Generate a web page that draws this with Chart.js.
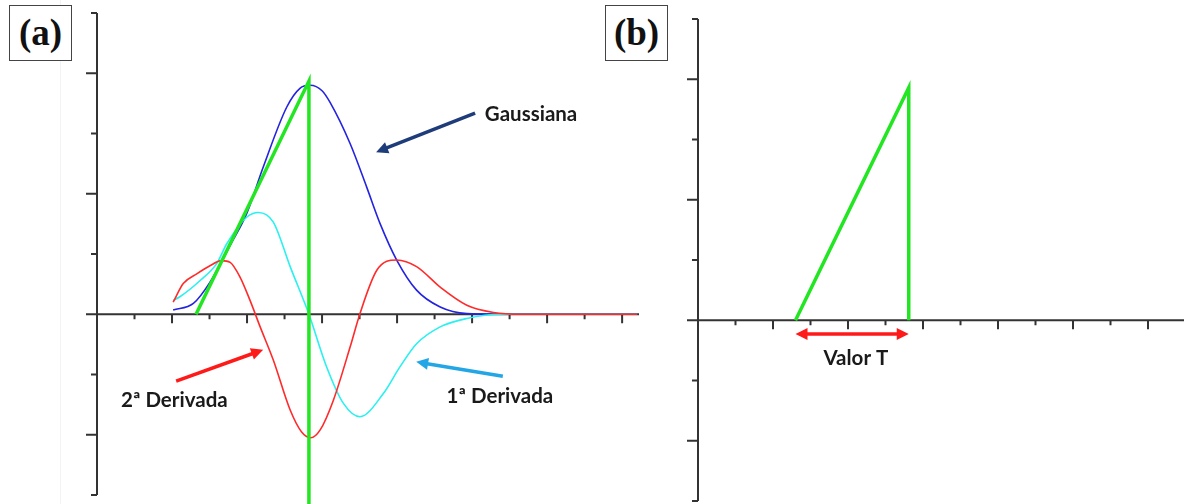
<!doctype html>
<html lang="pt">
<head>
<meta charset="utf-8">
<title>Gaussiana e derivadas</title>
<style>
  * { margin: 0; padding: 0; }
  body { width: 1184px; height: 504px; background: #fff; position: relative; overflow: hidden; }
  canvas { position: absolute; top: 0; }
  #chartA { left: 0; }
  #chartB { left: 660px; }
  .panelTag {
    position: absolute; top: 5px; width: 61px; height: 54px;
    border: 1.5px solid #444; background: #fff; color: #111;
    font-family: "Liberation Serif", serif; font-weight: bold; font-size: 37px;
    line-height: 54px; text-align: center;
  }
  .rule { position: absolute; top: 0; width: 1px; height: 504px; background: #f3f3f3; }
</style>
</head>
<body>
<div class="rule" style="left:60px"></div>
<canvas id="chartA" width="660" height="504"></canvas>
<canvas id="chartB" width="524" height="504"></canvas>
<div class="panelTag" style="left:9px">(a)</div>
<div class="panelTag" style="left:605px">(b)</div>

<script src="https://cdn.jsdelivr.net/npm/chart.js/dist/chart.umd.min.js"></script>
<script>
// ---- panel (a): gaussian and its derivatives ----
const gaussX = [2.03, 2.57, 3.01, 3.6, 3.99, 4.43, 5.06, 5.41, 5.68, 6.0, 6.21, 6.75, 7.19, 7.55, 7.99, 8.52, 9.15, 9.86, 10.6, 14.4];
const gaussY = [0.07, 0.18, 0.53, 1.2, 1.67, 2.44, 3.44, 3.75, 3.80, 3.71, 3.52, 2.83, 2.11, 1.50, 0.90, 0.40, 0.12, 0.01, 0, 0];

const deriv1X = [2.03, 2.21, 2.75, 3.19, 3.46, 3.99, 4.30, 4.70, 5.15, 5.65, 6.12, 6.57, 7.01, 7.63, 8.08, 8.52, 9.15, 9.86, 10.75, 14.4];
const deriv1Y = [0.23, 0.29, 0.56, 0.84, 1.17, 1.61, 1.69, 1.53, 0.79, 0, -0.87, -1.48, -1.70, -1.32, -0.87, -0.49, -0.21, -0.07, 0, 0];

const deriv2X = [2.03, 2.30, 2.66, 3.0, 3.32, 3.55, 3.81, 4.08, 4.35, 4.70, 5.15, 5.45, 5.70, 5.95, 6.30, 6.75, 7.01, 7.46, 7.99, 8.52, 9.15, 9.86, 10.57, 11.3, 14.4];
const deriv2Y = [0.20, 0.51, 0.67, 0.80, 0.89, 0.86, 0.62, 0.23, -0.21, -0.76, -1.59, -1.95, -2.05, -1.92, -1.43, -0.54, 0.01, 0.73, 0.90, 0.79, 0.45, 0.15, 0.03, 0, 0];

const tangentAX = [2.64, 5.65, 5.65];
const tangentAY = [0, 3.87, -3.2];

// ---- panel (b): tangent triangle ----
const tangentBX = [2.6, 5.62, 5.62];
const tangentBY = [0, 3.86, 0];

// axis tick positions (no labels in the figure)
const yTicks = [-3, -2, -1, 0, 1, 2, 3, 4, 5];
const xTicksA = [0, 1, 2, 3, 4, 5, 6, 7, 8, 9, 10, 11, 12, 13, 14];
const xTicksB = [0, 1, 2, 3, 4, 5, 6, 7, 8, 9, 10, 11, 12];

// annotations, in data units
const arrowsA = [
  { from: [10.08, 3.34], to: [7.44, 2.69], color: '#1f3c7a' },
  { from: [10.82, -1.03], to: [8.51, -0.79], color: '#23a6e6' },
  { from: [2.11, -1.11], to: [4.43, -0.59], color: '#ff1a1a' }
];
const labelsA = [
  { at: [10.34, 3.32], text: 'Gaussiana', align: 'left' },
  { at: [9.32, -1.36], text: '1ª Derivada', align: 'left' },
  { at: [0.64, -1.43], text: '2ª Derivada', align: 'left' }
];
const arrowsB = [
  { from: [2.6, -0.23], to: [5.62, -0.23], color: '#ff1a1a', both: true }
];
const labelsB = [
  { at: [4.21, -0.63], text: 'Valor T', align: 'center' }
];

const pts = (xs, ys) => xs.map((v, i) => ({ x: v, y: ys[i] }));

function axesPlugin(xTicks) {
  return {
    id: 'axes',
    beforeDatasetsDraw(chart) {
      const { ctx, scales: { x, y } } = chart;
      const x0 = x.getPixelForValue(0), y0 = y.getPixelForValue(0);
      ctx.save();
      ctx.strokeStyle = '#333';
      ctx.lineWidth = 2;
      ctx.beginPath();
      ctx.moveTo(x0, y.getPixelForValue(y.max));
      ctx.lineTo(x0, y.getPixelForValue(y.min));
      ctx.moveTo(x0, y0);
      ctx.lineTo(x.getPixelForValue(x.max), y0);
      yTicks.forEach(v => {
        const py = y.getPixelForValue(v);
        const len = v % 2 === 0 ? 11 : 6;
        ctx.moveTo(x0 - len, py);
        ctx.lineTo(x0, py);
      });
      xTicks.forEach(v => {
        if (v === 0) return;
        const px = x.getPixelForValue(v);
        const len = v % 2 === 0 ? 9 : 5;
        ctx.moveTo(px, y0);
        ctx.lineTo(px, y0 + len);
      });
      ctx.stroke();
      ctx.restore();
    }
  };
}

function head(ctx, ax, ay, bx, by) {
  const a = Math.atan2(by - ay, bx - ax);
  const L = 12, W = 6;
  ctx.beginPath();
  ctx.moveTo(bx, by);
  ctx.lineTo(bx - L * Math.cos(a) + W * Math.sin(a), by - L * Math.sin(a) - W * Math.cos(a));
  ctx.lineTo(bx - L * Math.cos(a) - W * Math.sin(a), by - L * Math.sin(a) + W * Math.cos(a));
  ctx.closePath();
  ctx.fill();
}

function notesPlugin(arrows, labels) {
  return {
    id: 'notes',
    afterDatasetsDraw(chart) {
      const { ctx, scales: { x, y } } = chart;
      ctx.save();
      arrows.forEach(ar => {
        const ax = x.getPixelForValue(ar.from[0]), ay = y.getPixelForValue(ar.from[1]);
        const bx = x.getPixelForValue(ar.to[0]), by = y.getPixelForValue(ar.to[1]);
        const a = Math.atan2(by - ay, bx - ax);
        ctx.strokeStyle = ar.color;
        ctx.fillStyle = ar.color;
        ctx.lineWidth = 3.5;
        ctx.beginPath();
        const s = ar.both ? 8 : 0;
        ctx.moveTo(ax + s * Math.cos(a), ay + s * Math.sin(a));
        ctx.lineTo(bx - 8 * Math.cos(a), by - 8 * Math.sin(a));
        ctx.stroke();
        head(ctx, ax, ay, bx, by);
        if (ar.both) head(ctx, bx, by, ax, ay);
      });
      ctx.fillStyle = '#1a1a1a';
      ctx.font = 'bold 20.5px Lato, "Open Sans", sans-serif';
      ctx.textBaseline = 'middle';
      labels.forEach(lb => {
        ctx.textAlign = lb.align;
        ctx.fillText(lb.text, x.getPixelForValue(lb.at[0]), y.getPixelForValue(lb.at[1]));
      });
      ctx.restore();
    }
  };
}

function curve(xs, ys, color, width, order, smooth) {
  return {
    data: pts(xs, ys),
    borderColor: color,
    borderWidth: width,
    pointRadius: 0,
    fill: false,
    order: order,
    clip: false,
    tension: 0,
    cubicInterpolationMode: smooth ? 'monotone' : 'default'
  };
}

function baseOptions(xMax, padding) {
  return {
    responsive: false,
    animation: false,
    devicePixelRatio: 1,
    events: [],
    layout: { padding: padding },
    plugins: { legend: { display: false }, tooltip: { enabled: false } },
    scales: {
      x: { type: 'linear', min: 0, max: xMax, display: false },
      y: { type: 'linear', min: -3, max: 5, display: false }
    }
  };
}

new Chart(document.getElementById('chartA'), {
  type: 'line',
  data: {
    datasets: [
      curve(tangentAX, tangentAY, '#22e622', 3.5, 0, false),
      curve(deriv2X, deriv2Y, '#ff2a2a', 1.6, 1, true),
      curve(deriv1X, deriv1Y, '#2af0f0', 1.6, 2, true),
      curve(gaussX, gaussY, '#2323e0', 1.6, 3, true)
    ]
  },
  options: baseOptions(14.45, { left: 97, right: 21, top: 13, bottom: 9 }),
  plugins: [axesPlugin(xTicksA), notesPlugin(arrowsA, labelsA)]
});

new Chart(document.getElementById('chartB'), {
  type: 'line',
  data: {
    datasets: [curve(tangentBX, tangentBY, '#22e622', 3.5, 0, false)]
  },
  options: baseOptions(12.96, { left: 38, right: 0, top: 19, bottom: 3 }),
  plugins: [axesPlugin(xTicksB), notesPlugin(arrowsB, labelsB)]
});
</script>
</body>
</html>
